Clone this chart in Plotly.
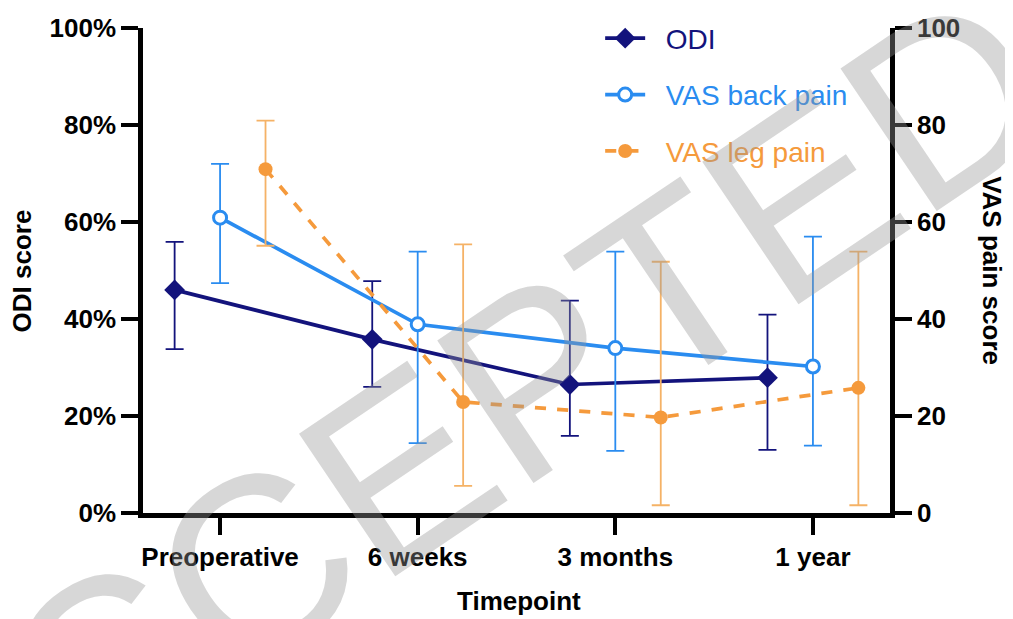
import plotly.graph_objects as go

categories = ["Preoperative", "6 weeks", "3 months", "1 year"]

odi = [46.0, 35.8, 26.5, 27.9]
odi_low = [33.8, 26.0, 15.9, 13.0]
odi_high = [55.9, 47.8, 43.8, 40.9]

vas_back = [60.9, 38.9, 34.0, 30.2]
vas_back_low = [47.4, 14.4, 12.8, 13.9]
vas_back_high = [72.0, 53.9, 53.9, 57.0]

vas_leg = [70.9, 22.9, 19.7, 25.8]
vas_leg_low = [55.1, 5.6, 1.6, 1.6]
vas_leg_high = [80.9, 55.4, 51.8, 53.9]

y_ticks = [0, 20, 40, 60, 80, 100]

C_ODI = "#13137c"
C_BACK = "#2a8cf0"
C_LEG = "#f59a3c"
C_LEG_ERR = "#f5b266"
FONT = "Liberation Sans, Arial, sans-serif"
SP = "&nbsp;&nbsp;"

offset = 0.23
idx = list(range(len(categories)))

def errs(v, lo, hi):
    return [h - x for x, h in zip(v, hi)], [x - l for x, l in zip(v, lo)]

fig = go.Figure()

up, dn = errs(odi, odi_low, odi_high)
fig.add_trace(go.Scatter(
    x=[i - offset for i in idx], y=odi, name="%s<span style='color:%s'>ODI</span>" % (SP, C_ODI),
    mode="lines+markers",
    line=dict(color=C_ODI, width=3.7),
    marker=dict(symbol="diamond", size=16, color=C_ODI),
    error_y=dict(type="data", array=up, arrayminus=dn, color=C_ODI, thickness=1.8, width=9),
    yaxis="y", legendgroup="a",
))

up, dn = errs(vas_back, vas_back_low, vas_back_high)
fig.add_trace(go.Scatter(
    x=idx, y=vas_back, name="%s<span style='color:%s'>VAS back pain</span>" % (SP, C_BACK),
    mode="lines+markers",
    line=dict(color=C_BACK, width=3.7),
    marker=dict(symbol="circle", size=13, color="white", line=dict(color=C_BACK, width=3)),
    error_y=dict(type="data", array=up, arrayminus=dn, color=C_BACK, thickness=1.8, width=9),
    yaxis="y2", legendgroup="b",
))

up, dn = errs(vas_leg, vas_leg_low, vas_leg_high)
fig.add_trace(go.Scatter(
    x=[i + offset for i in idx], y=vas_leg, name="%s<span style='color:%s'>VAS leg pain</span>" % (SP, C_LEG),
    mode="lines+markers",
    line=dict(color=C_LEG, width=3.7, dash="dash"),
    marker=dict(symbol="circle", size=14, color=C_LEG),
    error_y=dict(type="data", array=up, arrayminus=dn, color=C_LEG_ERR, thickness=1.8, width=9),
    yaxis="y2", legendgroup="c",
))

tickfont = dict(family=FONT, size=26, color="black")
axis_common = dict(showline=True, linecolor="black", linewidth=4.5, ticks="outside",
                   ticklen=17, tickwidth=4, tickcolor="black", showgrid=False, zeroline=False,
                   tickfont=tickfont, automargin=False)

fig.update_layout(
    width=1005, height=611,
    margin=dict(l=135, r=123, t=20, b=106, autoexpand=False),
    paper_bgcolor="white", plot_bgcolor="white",
    font=dict(family=FONT, color="black"),
    xaxis=dict(range=[-0.39, 3.39], tickvals=idx, ticktext=["<b>%s</b>" % c for c in categories],
               **axis_common),
    yaxis=dict(range=[0, 100], tickvals=y_ticks, ticktext=["<b>%d%%</b>" % v for v in y_ticks],
               **axis_common),
    yaxis2=dict(range=[0, 100], tickvals=y_ticks, ticktext=["<b>%d</b>" % v for v in y_ticks],
                overlaying="y", side="right", anchor="x", **axis_common),
    legend=dict(x=0.612, y=1.03, xanchor="left", yanchor="top", bgcolor="rgba(0,0,0,0)",
                font=dict(size=28, family=FONT),
                itemwidth=40, tracegroupgap=17, traceorder="grouped"),
    showlegend=True,
)

fig.add_annotation(text="<b>ODI score</b>", xref="paper", yref="paper", x=-0.162, y=0.5,
                   xanchor="center", yanchor="middle",
                   textangle=-90, showarrow=False, font=dict(size=26))
fig.add_annotation(text="<b>VAS pain score</b>", xref="paper", yref="paper", x=1.137, y=0.5,
                   xanchor="center", yanchor="middle",
                   textangle=90, showarrow=False, font=dict(size=26))
fig.add_annotation(text="<b>Timepoint</b>", xref="paper", yref="paper", x=0.503, y=-0.182,
                   xanchor="center", yanchor="middle",
                   showarrow=False, font=dict(size=26))

fig.add_annotation(text="ACCEPTED", xref="paper", yref="paper", x=0.42, y=0.17,
                   xanchor="center", yanchor="middle",
                   textangle=-34, showarrow=False,
                   font=dict(size=250, color="rgba(150,150,150,0.38)", family=FONT))

fig.write_html("out.html")
